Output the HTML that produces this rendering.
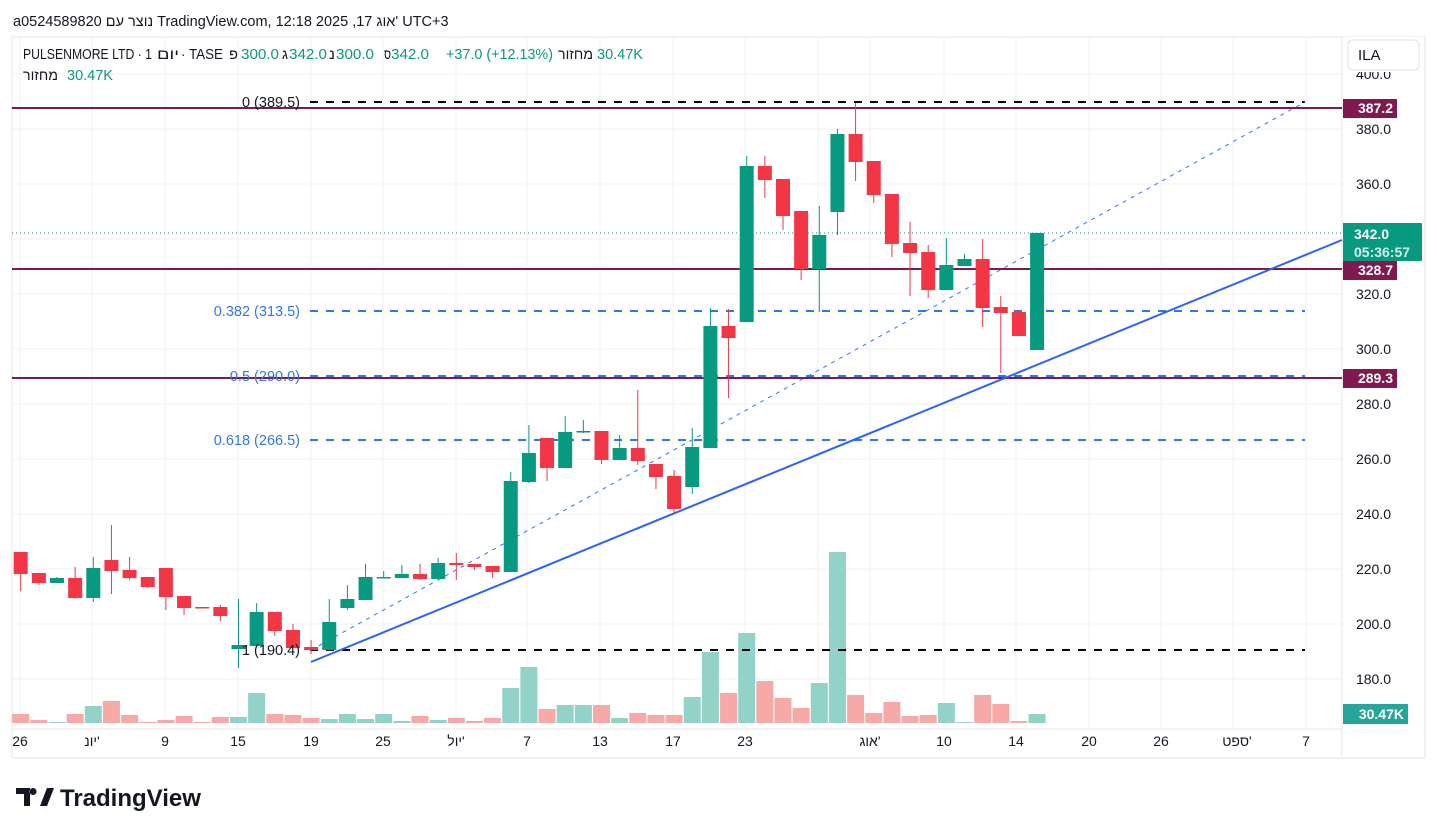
<!DOCTYPE html>
<html><head><meta charset="utf-8"><style>
body{margin:0;background:#fff;width:1437px;height:834px;overflow:hidden;font-family:"Liberation Sans","Noto Sans CJK JP",sans-serif}
svg text{font-family:"Liberation Sans","DejaVu Sans",sans-serif}
</style></head><body>
<svg id="s" width="1437" height="834" xmlns="http://www.w3.org/2000/svg">
<rect x="12" y="37" width="1413" height="721" fill="#fff" stroke="#e6e6e6"/>
<g id="grid" stroke="#f0f0f0" stroke-width="1"></g>
<line x1="1342" y1="37" x2="1342" y2="758" stroke="#e6e6e6"/>
<line x1="12" y1="729" x2="1342" y2="729" stroke="#e6e6e6"/>
<g id="vol"></g>
<g id="lines"></g>
<g id="candles"></g>
<g id="over"></g>
</svg>
<script>
const NS="http://www.w3.org/2000/svg";
function el(p,t,a,txt){const e=document.createElementNS(NS,t);for(const k in a)e.setAttribute(k,a[k]);if(txt!==undefined)e.textContent=txt;document.getElementById(p).appendChild(e);return e;}
const G="#089981",R="#f23645";
const py=p=>129+(380-p)*2.75;
for(let p=180;p<=400;p+=20){el('grid','line',{x1:12,x2:1342,y1:py(p),y2:py(p)});}
const xs=[20,92,165,238,311,383,456,527,600,673,745,818,870,944,1016,1089,1161,1233,1306];
xs.forEach(x=>el('grid','line',{x1:x,x2:x,y1:37,y2:729}));
const C=[
[0,552,574,552,591],[0,573,583,573,585],[1,578,583,577,583],[0,578,598,567,599],[1,568,598,557,602],
[0,560,571,525,594],[0,570,578,557,580],[0,577,587,577,588],[0,568,597,568,610],[0,596,608,596,615],
[0,607,608,607,608],[0,607,616,605,621],[1,645,649,599,668],[1,612,646,603,646],[0,612,631,612,636],
[0,630,648,624,648],[0,647,650,640,654],[1,622,650,599,650],[1,599,608,585,610],[1,577,600,564,600],
[1,577,578,571,578],[1,574,578,565,578],[0,574,579,564,580],[1,563,579,558,579],[0,563,565,553,580],
[0,564,567,564,570],[0,566,572,566,578],[1,481,572,472,572],[1,453,482,425,483],[0,438,468,438,481],
[1,432,468,416,468],[1,431,432,420,433],[0,431,460,431,464],[1,448,460,435,460],[0,448,461,390,465],
[0,464,477,464,489],[0,476,509,470,513],[1,447,487,428,494],[1,326,448,308,448],[0,326,338,309,398],
[1,166,322,156,322],[0,166,180,156,198],[0,179,216,179,230],[0,211,269,211,280],[1,235,269,206,312],
[1,134,212,129,235],[0,134,162,103,181],[0,161,195,161,203],[0,194,244,194,257],[0,243,253,222,296],
[0,252,290,245,298],[1,265,290,238,290],[1,259,266,254,266],[0,259,308,239,327],[0,307,313,296,373],
[0,312,336,312,336],[1,233,350,233,350]];
const V=[714,720,722,714,706,701,715,722,720,716,722,717,717,693,714,715,718,719,714,719,714,721,716,720,718,721,718,688,667,709,705,705,705,718,713,715,715,697,652,693,633,681,698,708,683,552,695,713,702,716,715,703,722,695,704,721,714];
C.forEach((c,i)=>{const x=20.7+18.15*i;const col=c[0]?G:R;
 el('vol','rect',{x:x-8.5,y:V[i],width:17,height:723-V[i],fill:c[0]?"#92d2c9":"#f7a9a7"});
 el('candles','line',{x1:x,x2:x,y1:c[3],y2:c[4],stroke:col,'stroke-width':1});
 el('candles','rect',{x:x-7,y:c[1],width:14,height:Math.max(1.5,c[2]-c[1]),fill:col});
});
el('lines','line',{x1:12,x2:1342,y1:233,y2:233,stroke:G,'stroke-width':1,'stroke-dasharray':'1 3'});
el('lines','line',{x1:310,x2:1305,y1:102,y2:102,stroke:"#000",'stroke-width':2,'stroke-dasharray':'8 8'});
el('lines','line',{x1:310,x2:1305,y1:650,y2:650,stroke:"#000",'stroke-width':2,'stroke-dasharray':'8 8'});
[311,376,440].forEach(y=>el('lines','line',{x1:310,x2:1305,y1:y,y2:y,stroke:"#2f76f2",'stroke-width':2,'stroke-dasharray':'8 8'}));
[108,269,378].forEach(y=>el('lines','line',{x1:12,x2:1342,y1:y,y2:y,stroke:"#801950",'stroke-width':2}));
el('lines','line',{x1:311,x2:1305,y1:650,y2:102,stroke:"#2f76f2",'stroke-width':1,'stroke-dasharray':'4 5'});
el('lines','line',{x1:311,x2:1342,y1:662,y2:240,stroke:"#2962ff",'stroke-width':2});
const fs=14.5;
el('over','text',{x:300,y:107,'text-anchor':'end','font-size':fs,fill:"#131722"},"0 (389.5)");
el('over','text',{x:300,y:316,'text-anchor':'end','font-size':fs,fill:"#2f76f2"},"0.382 (313.5)");
el('over','text',{x:300,y:381,'text-anchor':'end','font-size':fs,fill:"#2f76f2"},"0.5 (290.0)");
el('over','text',{x:300,y:445,'text-anchor':'end','font-size':fs,fill:"#2f76f2"},"0.618 (266.5)");
el('over','text',{x:300,y:655,'text-anchor':'end','font-size':fs,fill:"#131722"},"1 (190.4)");
for(let p=180;p<=400;p+=20){if(p==340)continue;el('over','text',{x:1391,y:py(p)+5,'text-anchor':'end','font-size':14,fill:"#131722"},p.toFixed(1));}
el('over','rect',{x:1343,y:37,width:80,height:35,fill:"#fff"});
el('over','rect',{x:1348,y:40,width:71,height:30,rx:5,fill:"#fff",stroke:"#e0e3eb"});
el('over','text',{x:1358,y:60,'font-size':15,fill:"#131722"},"ILA");
function tag(y,t,c){el('over','rect',{x:1343,y:y-9,width:54,height:19,fill:c});el('over','text',{x:1393,y:y+5,'text-anchor':'end','font-size':14,'font-weight':'bold',fill:"#fff"},t);}
tag(108,"387.2","#801950");tag(270,"328.7","#801950");tag(378,"289.3","#801950");
el('over','rect',{x:1343,y:223,width:79,height:38,fill:G});
el('over','text',{x:1354,y:239,'font-size':14,'font-weight':'bold',fill:"#fff"},"342.0");
el('over','text',{x:1354,y:257,'font-size':14,'font-weight':'bold',fill:"#d6f0ea"},"05:36:57");
el('over','rect',{x:1343,y:704,width:65,height:20,fill:"#26a69a"});
el('over','text',{x:1404,y:719,'text-anchor':'end','font-size':14,'font-weight':'bold',fill:"#fff"},"30.47K");
const L=[[20,"26"],[92,"יונ'"],[165,"9"],[238,"15"],[311,"19"],[383,"25"],[456,"יול'"],[527,"7"],[600,"13"],[673,"17"],[745,"23"],[870,"אוג'"],[944,"10"],[1016,"14"],[1089,"20"],[1161,"26"],[1237,"ספט'"],[1306,"7"]];
L.forEach(l=>el('over','text',{x:l[0],y:746,'text-anchor':'middle','font-size':14,fill:"#131722"},l[1]));
el('over','text',{x:13,y:26,'font-size':14.5,fill:"#131722"},"a0524589820 נוצר עם TradingView.com, 12:18 2025 ,17 אוג' UTC+3");
const D="#131722";
[[23,"PULSENMORE LTD · 1",D,129],[157,"יום",D,22],[181,"· TASE",D,42],[229,"פ",D,9],[241,"300.0",G,38],[282,"ג",D,6],[289,"342.0",G,38],[329,"נ",D,6],[336,"300.0",G,38],[384,"ס",D,7],[391,"342.0",G,38],[446,"+37.0 (+12.13%)",G,107],[558,"מחזור",D,35],[597,"30.47K",G,46]].forEach(t=>el('over','text',{x:t[0],y:59,'font-size':14.5,fill:t[2],textLength:t[3],lengthAdjust:'spacingAndGlyphs'},t[1]));
el('over','text',{x:23,y:80,'font-size':14.5,fill:D,textLength:35,lengthAdjust:'spacingAndGlyphs'},"מחזור");
el('over','text',{x:67,y:80,'font-size':14.5,fill:G,textLength:46,lengthAdjust:'spacingAndGlyphs'},"30.47K");
el('over','text',{x:60,y:806,'font-size':24,'font-weight':'bold',fill:"#131722"},"TradingView");
el('over','path',{d:"M16 788h14v18h-6v-12h-8z M33 788a3.5 3.5 0 1 0 0.1 0z",fill:"#131722"});
el('over','path',{d:"M40 806l7-18h7l-7 18z",fill:"#131722"});
</script>
</body></html>
